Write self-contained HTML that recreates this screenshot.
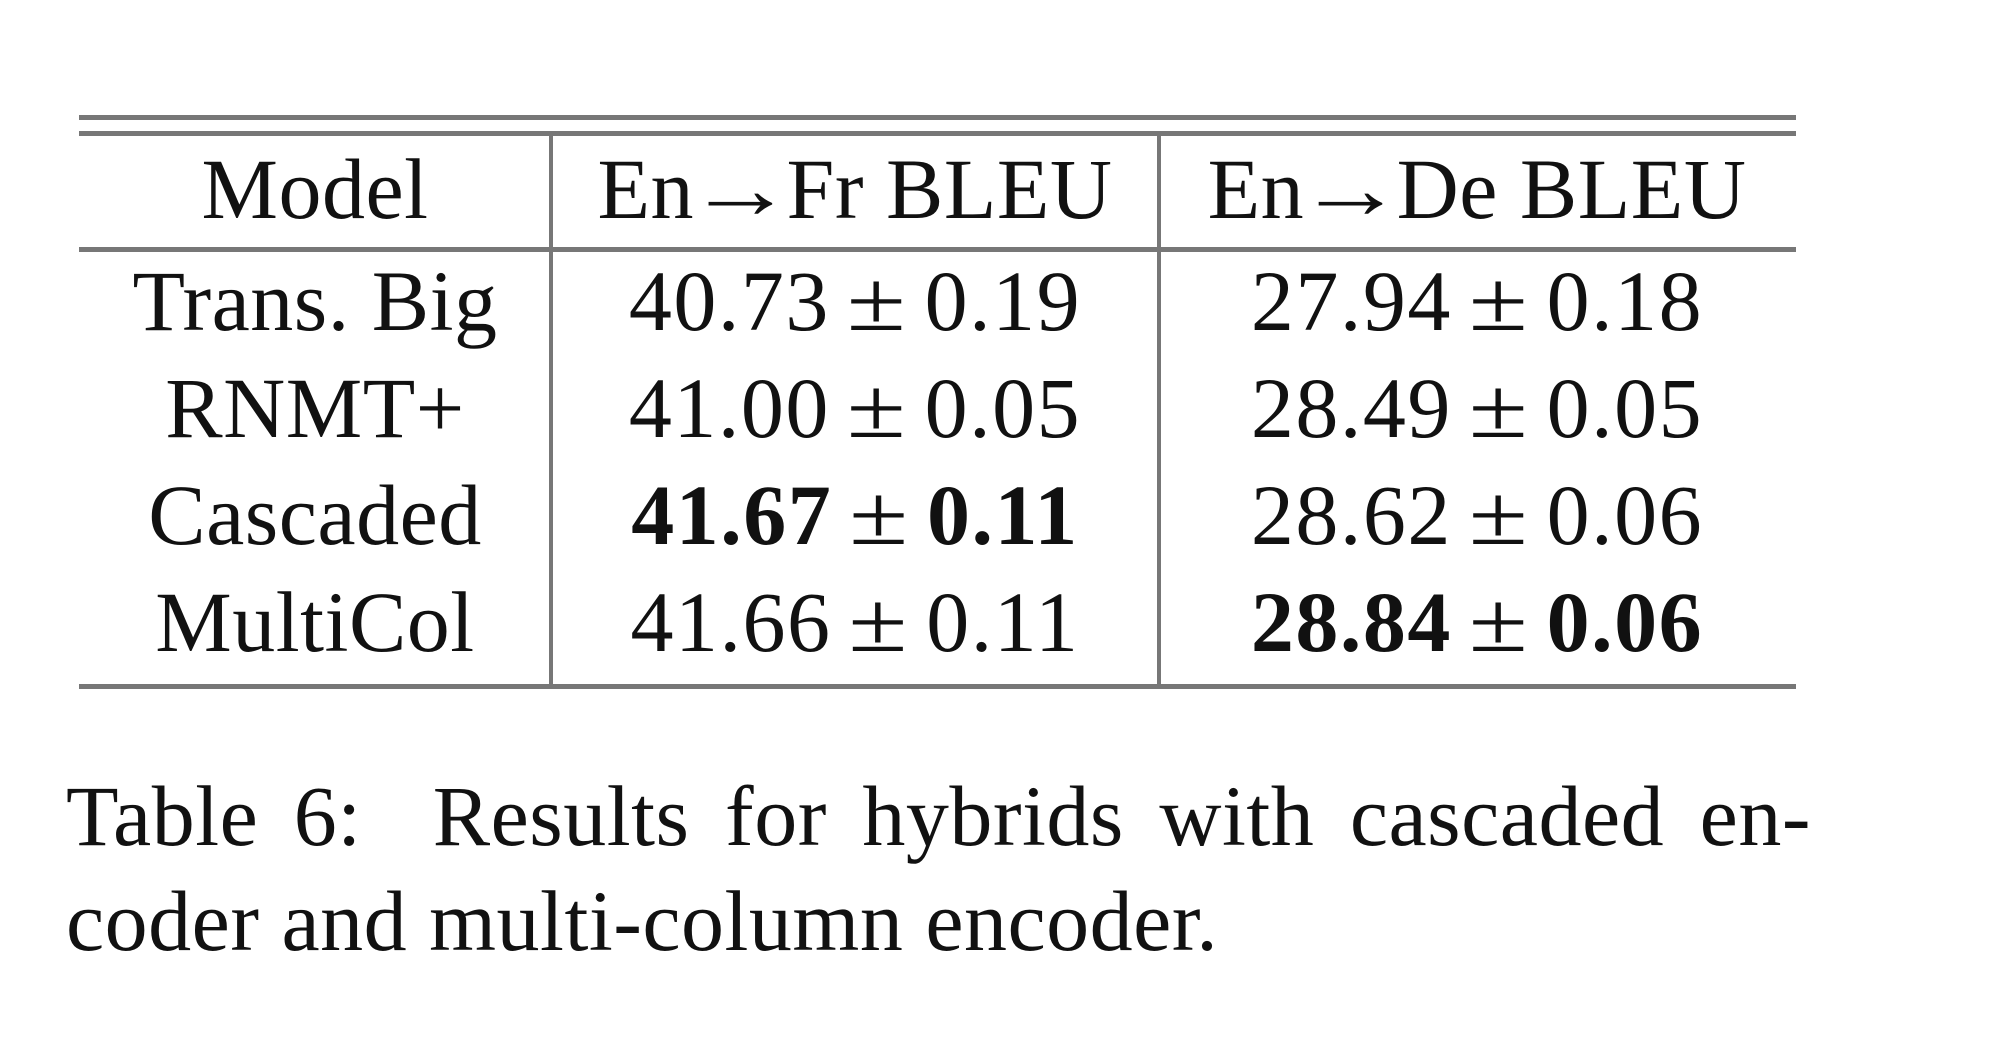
<!DOCTYPE html>
<html><head><meta charset="utf-8"><style>
body{margin:0;width:2000px;height:1042px;background:#fff;position:relative;overflow:hidden;font-family:"Liberation Serif",serif;color:#111}
.r{position:absolute;background:#777;height:5px;left:79px;width:1717px}
.v{position:absolute;background:#777;width:4px;top:133px;height:553px}
.t{position:absolute;font-size:86px;line-height:100px;height:100px;text-align:center;white-space:nowrap;transform:translateX(-50%);letter-spacing:0.5px}
.n{letter-spacing:1.5px}
.pm{display:inline-block;transform:scaleX(1.25)}
.ar{display:inline-block;transform:scaleX(1.25);margin:0 3px}
.cap{position:absolute;left:66px;width:1745px;font-size:86px;line-height:100px;white-space:nowrap;letter-spacing:0.5px}
</style></head><body>
<div class="r" style="top:115px"></div>
<div class="r" style="top:131px"></div>
<div class="r" style="top:247px"></div>
<div class="r" style="top:684px"></div>
<div class="v" style="left:549px"></div>
<div class="v" style="left:1157px"></div>

<div class="t" style="left:315px;top:139px">Model</div>
<div class="t" style="left:855px;top:139px">En<span class="ar">→</span>Fr BLEU</div>
<div class="t" style="left:1477px;top:139px">En<span class="ar">→</span>De BLEU</div>

<div class="t" style="left:315px;top:251px">Trans. Big</div>
<div class="t n" style="left:855px;top:251px">40.73 <span class="pm">±</span> 0.19</div>
<div class="t n" style="left:1477px;top:251px">27.94 <span class="pm">±</span> 0.18</div>

<div class="t" style="left:315px;top:358px">RNMT+</div>
<div class="t n" style="left:855px;top:358px">41.00 <span class="pm">±</span> 0.05</div>
<div class="t n" style="left:1477px;top:358px">28.49 <span class="pm">±</span> 0.05</div>

<div class="t" style="left:315px;top:465px">Cascaded</div>
<div class="t n" style="left:855px;top:465px"><b>41.67</b> <span class="pm">±</span> <b>0.11</b></div>
<div class="t n" style="left:1477px;top:465px">28.62 <span class="pm">±</span> 0.06</div>

<div class="t" style="left:315px;top:572px">MultiCol</div>
<div class="t n" style="left:855px;top:572px">41.66 <span class="pm">±</span> 0.11</div>
<div class="t n" style="left:1477px;top:572px"><b>28.84</b> <span class="pm">±</span> <b>0.06</b></div>

<div class="cap" style="top:766px;text-align:justify;text-align-last:justify">Table 6:&nbsp; Results for hybrids with cascaded en-</div>
<div class="cap" style="top:871px">coder and multi-column encoder.</div>
</body></html>
